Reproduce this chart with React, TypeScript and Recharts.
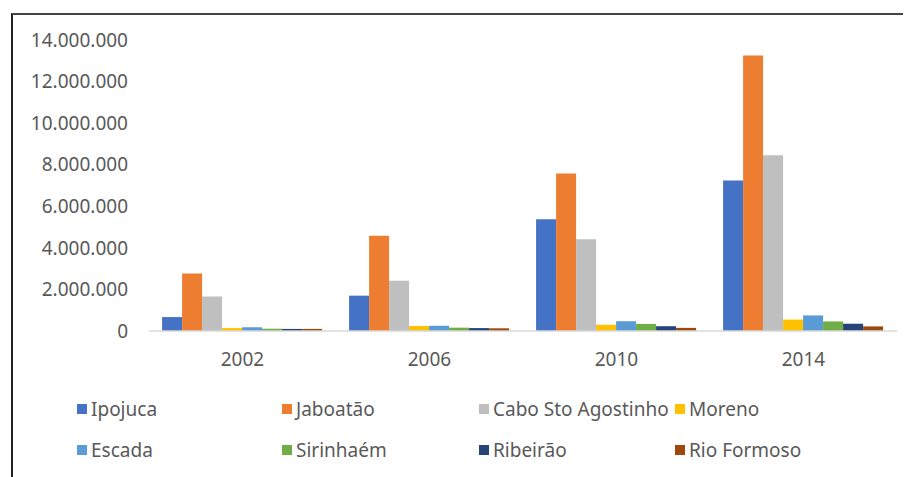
import React from "react";
import { BarChart, Bar, XAxis, YAxis, Legend } from "recharts";

const years = ["2002", "2006", "2010", "2014"];
const ipojuca = [670000, 1700000, 5380000, 7240000];
const jaboatao = [2770000, 4580000, 7580000, 13250000];
const cabo = [1660000, 2420000, 4410000, 8460000];
const moreno = [140000, 240000, 300000, 550000];
const escada = [180000, 250000, 470000, 750000];
const sirinhaem = [110000, 160000, 340000, 460000];
const ribeirao = [100000, 140000, 230000, 350000];
const rioFormoso = [100000, 130000, 150000, 220000];
const yTicks = [0, 2000000, 4000000, 6000000, 8000000, 10000000, 12000000, 14000000];

const series = [
  { key: "Ipojuca", values: ipojuca, color: "#4472C4" },
  { key: "Jaboatão", values: jaboatao, color: "#ED7D31" },
  { key: "Cabo Sto Agostinho", values: cabo, color: "#BFBFBF" },
  { key: "Moreno", values: moreno, color: "#FFC000" },
  { key: "Escada", values: escada, color: "#5B9BD5" },
  { key: "Sirinhaém", values: sirinhaem, color: "#70AD47" },
  { key: "Ribeirão", values: ribeirao, color: "#264478" },
  { key: "Rio Formoso", values: rioFormoso, color: "#9E480E" },
];

const data = years.map((y, i) => {
  const row: any = { year: y };
  series.forEach((s) => (row[s.key] = s.values[i]));
  return row;
});

const fmt = (v: number) => v.toLocaleString("de-DE");
const FONT = "'Noto Sans', sans-serif";
const TEXT = "#595959";

const LegendContent = (props: any) => {
  const payload = props.payload || [];
  const order = series.map((s) => s.key);
  const items = [...payload].sort((a: any, b: any) => order.indexOf(a.value) - order.indexOf(b.value));
  const cols = [48, 253, 450, 646];
  return (
    <div style={{ position: "relative", height: 95, width: 860, fontFamily: FONT }}>
      {items.map((p: any, i: number) => {
        const col = i % 4;
        const row = Math.floor(i / 4);
        return (
          <div
            key={p.value}
            style={{
              position: "absolute",
              left: cols[col],
              top: row === 0 ? 26 : 67,
              height: 24,
              display: "flex",
              alignItems: "center",
              fontSize: 19,
              color: TEXT,
              whiteSpace: "nowrap",
            }}
          >
            <span style={{ display: "inline-block", width: 10, height: 10, background: p.color, marginRight: 4 }} />
            {p.value}
          </div>
        );
      })}
    </div>
  );
};

export default function App() {
  return (
    <div
      style={{
        marginLeft: 3,
        marginTop: 5,
        width: 920,
        height: 470,
        borderLeft: "2px solid #222",
        borderTop: "2px solid #444",
        position: "relative",
      }}
    >
      <BarChart
        width={898}
        height={462}
        data={data}
        margin={{ top: 25, right: 14, bottom: 11, left: 16 }}
        barCategoryGap="7%"
        barGap={0}
      >
        <XAxis
          dataKey="year"
          tickLine={false}
          axisLine={{ stroke: "#D9D9D9", strokeWidth: 1.5 }}
          tick={{ fill: TEXT, fontSize: 19, fontFamily: FONT }}
          tickMargin={16}
          height={40}
        />
        <YAxis
          domain={[0, 14000000]}
          ticks={yTicks}
          tickFormatter={fmt}
          axisLine={false}
          tickLine={false}
          tickMargin={15}
          width={120}
          tick={{ fill: TEXT, fontSize: 19, fontFamily: FONT }}
        />
        <Legend verticalAlign="bottom" content={<LegendContent />} />
        {series.map((s) => (
          <Bar key={s.key} dataKey={s.key} fill={s.color} isAnimationActive={false} />
        ))}
      </BarChart>
    </div>
  );
}
